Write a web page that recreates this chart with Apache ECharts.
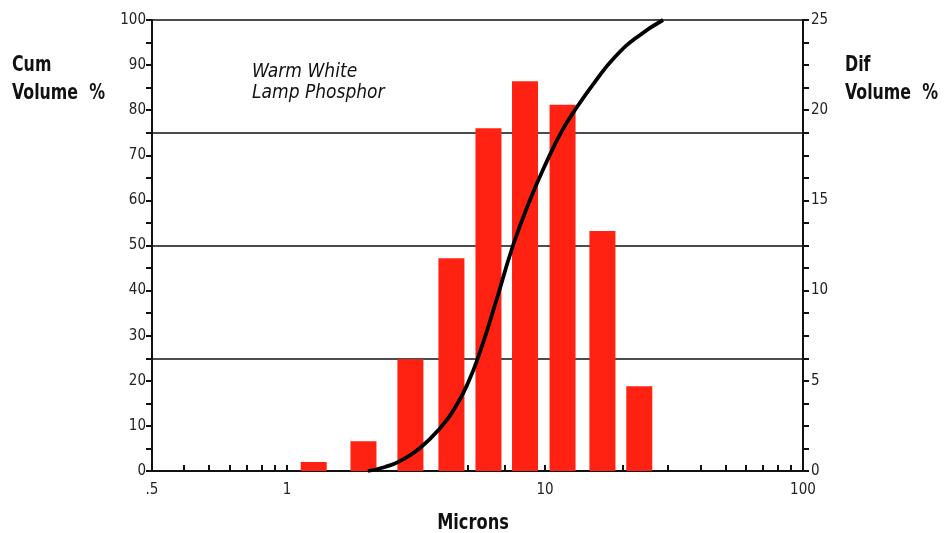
<!DOCTYPE html>
<html><head><meta charset="utf-8">
<script src="https://cdn.jsdelivr.net/npm/echarts@6/dist/echarts.min.js"></script>
<style>html,body{margin:0;padding:0;background:#fff}#c{width:952px;height:533px}</style>
</head><body><div id="c"></div>
<script>
// Differential volume bars (right axis, %), centred at particle size (microns)
const binSizes = [1.27, 1.98, 3.01, 4.34, 6.04, 8.37, 11.7, 16.7, 23.2];
const difVolume = [0.5, 1.65, 6.2, 11.8, 19.0, 21.6, 20.3, 13.3, 4.7];
// Cumulative volume curve (left axis, %)
const cumSizes = [2.06, 2.40, 2.74, 3.28, 3.92, 4.48, 5.03, 5.60, 6.40, 7.52, 8.75, 10.18, 11.64, 13.31, 15.62, 18.67, 22.73, 28.68];
const cumVolume = [0, 0.9, 2.2, 5.1, 9.5, 14.0, 19.5, 26.4, 36.8, 50.0, 60.1, 68.7, 75.4, 80.7, 86.3, 91.8, 96.2, 100];
// Axis ticks and labels
const xTickValues = [0.3, 0.4, 0.5, 0.6, 0.7, 0.8, 0.9, 1, 2, 3, 4, 5, 6, 7, 8, 9, 10, 20, 30, 40, 50, 60, 70, 80, 90, 100];
const xLabelValues = [0.3, 1, 10, 100];
const xLabelTexts = ['.5', '1', '10', '100'];

const FONT = "'Liberation Sans Narrow', 'DejaVu Sans Condensed', 'Liberation Sans', sans-serif";
const chart = echarts.init(document.getElementById('c'), null, {renderer: 'canvas'});

const xCommon = {
  type: 'log', min: 0.3, max: 100, logBase: 10,
  axisLine: {show: true, lineStyle: {color: '#111', width: 2}},
  splitLine: {show: false}, minorTick: {show: false}
};

chart.setOption({
  animation: false,
  backgroundColor: '#fff',
  grid: {left: 152, right: 149, top: 20, bottom: 62, containLabel: false},
  xAxis: [
    Object.assign({}, xCommon, {
      position: 'bottom',
      axisTick: {show: true, inside: true, length: 6, lineStyle: {color: '#111', width: 2}, customValues: xTickValues},
      axisLabel: {show: true, margin: 12, color: '#222', fontSize: 15, fontFamily: FONT, customValues: xLabelValues,
        formatter: v => { const i = xLabelValues.findIndex(t => Math.abs(t - v) / t < 1e-6); return i >= 0 ? xLabelTexts[i] : ''; }}
    }),
    Object.assign({}, xCommon, {
      position: 'top',
      axisTick: {show: true, inside: false, length: 6, lineStyle: {color: '#111', width: 2}, customValues: xTickValues},
      axisLabel: {show: false}
    })
  ],
  yAxis: [
    {type: 'value', position: 'left', min: 0, max: 100, interval: 10,
      axisLine: {show: true, lineStyle: {color: '#111', width: 2}},
      axisTick: {show: true, inside: false, length: 6, lineStyle: {color: '#111', width: 2}},
      minorTick: {show: true, splitNumber: 2, length: 6, lineStyle: {color: '#111', width: 2}},
      axisLabel: {margin: 6, color: '#222', fontSize: 15, fontFamily: FONT},
      splitLine: {show: false}},
    {type: 'value', position: 'right', min: 0, max: 25, interval: 5,
      axisLine: {show: true, lineStyle: {color: '#111', width: 2}},
      axisTick: {show: true, inside: false, length: 6, lineStyle: {color: '#111', width: 2}},
      minorTick: {show: true, splitNumber: 4, length: 6, lineStyle: {color: '#111', width: 2}},
      axisLabel: {margin: 8, color: '#222', fontSize: 15, fontFamily: FONT},
      splitLine: {show: false}},
    {type: 'value', position: 'left', min: 0, max: 100, interval: 25,
      axisLine: {show: false}, axisTick: {show: false}, axisLabel: {show: false},
      splitLine: {show: true, lineStyle: {color: '#111', width: 1.6}}}
  ],
  series: [
    {type: 'bar', xAxisIndex: 0, yAxisIndex: 1, barWidth: 26, z: 2,
      itemStyle: {color: '#ff2112'},
      data: binSizes.map((s, i) => [s, difVolume[i]])},
    {type: 'line', xAxisIndex: 0, yAxisIndex: 0, smooth: 0.5, showSymbol: false, z: 5,
      lineStyle: {color: '#000', width: 3.8},
      data: cumSizes.map((s, i) => [s, cumVolume[i]])}
  ],
  graphic: [
    {type: 'text', x: 12, y: 51, scaleX: 0.8, style: {text: 'Cum\nVolume  %', font: `bold 22px ${FONT}`, fill: '#111', lineHeight: 28}},
    {type: 'text', x: 845, y: 51, scaleX: 0.8, style: {text: 'Dif\nVolume  %', font: `bold 22px ${FONT}`, fill: '#111', lineHeight: 28}},
    {type: 'text', x: 252, y: 62, scaleX: 1.0, style: {text: 'Warm White\nLamp Phosphor', font: `italic 19px ${FONT}`, fill: '#111', lineHeight: 21}},
    {type: 'text', x: 473, y: 523, scaleX: 0.82, style: {text: 'Microns', font: `bold 22px ${FONT}`, fill: '#111', align: 'center', verticalAlign: 'middle'}}
  ]
});
</script>
</body></html>
